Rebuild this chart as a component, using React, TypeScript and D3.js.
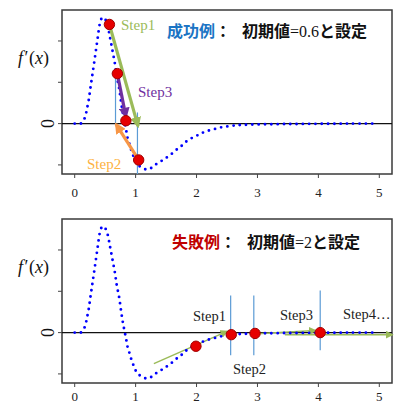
import React from 'react';
import * as d3 from 'd3';

// ---- data ----
const X_TICKS = [0, 1, 2, 3, 4, 5];
const Y_TICKS = [-1, 0, 1, 2];
const CURVE_X = [0, 0.1, 0.16, 0.19, 0.21, 0.23, 0.26, 0.29, 0.32, 0.35, 0.38, 0.41, 0.44, 0.47, 0.5, 0.54, 0.58, 0.62, 0.66, 0.69, 0.73, 0.76, 0.79, 0.83, 0.85, 0.87, 0.9, 0.93, 0.97, 1.01, 1.08, 1.18, 1.26, 1.34, 1.44, 1.52, 1.61, 1.69, 1.77, 1.86, 1.98, 2.06, 2.15, 2.25, 2.35, 2.44, 2.55, 2.66, 2.76, 3.0, 3.5, 4.0, 4.5, 4.98];
const CURVE_Y = [0, 0, 0.12, 0.27, 0.42, 0.57, 0.88, 1.18, 1.48, 1.79, 2.1, 2.4, 2.54, 2.57, 2.53, 2.38, 2.08, 1.77, 1.45, 1.15, 0.85, 0.54, 0.25, -0.05, -0.2, -0.36, -0.5, -0.65, -0.81, -0.94, -1.05, -1.11, -1.07, -0.98, -0.89, -0.81, -0.71, -0.61, -0.52, -0.4, -0.31, -0.25, -0.19, -0.15, -0.11, -0.08, -0.06, -0.04, -0.03, -0.02, -0.01, -0.005, 0, 0];

// success case (initial value 0.6)
const OK_POINT_X = [0.57, 0.7, 0.84, 1.05];
const OK_POINT_Y = [2.4, 1.21, 0.07, -0.88];
const OK_ARROW_FROM_X = [0.57, 1.05, 0.7];
const OK_ARROW_FROM_Y = [2.4, -0.88, 1.21];
const OK_ARROW_TO_X = [1.04, 0.68, 0.84];
const OK_ARROW_TO_Y = [-0.06, -0.02, 0.17];
const OK_ARROW_COLORS = ['#9bbb59', '#f79646', '#7030a0'];
const OK_VLINE_X = [1.03, 0.67];
const OK_VLINE_Y0 = [0.27, 1.21];
const OK_VLINE_Y1 = [-1.22, 0];

// failure case (initial value 2)
const NG_POINT_X = [1.99, 2.57, 2.96, 4.03];
const NG_POINT_Y = [-0.33, -0.05, -0.02, 0];
const NG_ARROW_FROM_X = [1.3, 3.0, 3.45];
const NG_ARROW_FROM_Y = [-0.75, -0.03, -0.05];
const NG_ARROW_TO_X = [2.5, 3.95, 5.21];
const NG_ARROW_TO_Y = [0.03, 0.05, -0.05];
const NG_VLINE_X = [2.56, 2.94, 4.03];
const NG_VLINE_Y0 = [0.9, 0.9, 1.02];
const NG_VLINE_Y1 = [-0.55, -0.55, -0.43];

const STEP_LABELS = ['Step1', 'Step2', 'Step3', 'Step4…'];

// ---- layout ----
const W = 394;
const H = 405;
const BOX_L = 62;
const BOX_R = 392;
const BOX_H = 164;
const PANEL_TOPS = [10, 219];
const LABEL_OFFSETS = [23, 18];
const SERIF = '"Liberation Serif", "Times New Roman", serif';
const CJK = '"Noto Sans CJK JP", "Noto Sans", sans-serif';

const xScale = d3.scaleLinear().domain([0, 5]).range([74.7, 379.3]);
const makeY = (top: number) => d3.scaleLinear().domain([-1.22, 2.75]).range([top + BOX_H, top]);

const curveData: [number, number][] = CURVE_X.map((x, i) => [x, CURVE_Y[i]]);

function Panel({ top, labelOffset, children }: { top: number; labelOffset: number; children?: React.ReactNode }) {
  const y = makeY(top);
  const line = d3
    .line<[number, number]>()
    .x((d) => xScale(d[0]))
    .y((d) => y(d[1]))
    .curve(d3.curveCatmullRom.alpha(0.5));
  const bottom = top + BOX_H;
  return (
    <g>
      <rect x={BOX_L} y={top} width={BOX_R - BOX_L} height={BOX_H} fill="white" stroke="#3a3a3a" strokeWidth={1.5} />
      {Y_TICKS.map((t) => (
        <line key={'yt' + t} x1={BOX_L - 4} x2={BOX_L} y1={y(t)} y2={y(t)} stroke="#444" strokeWidth={1} />
      ))}
      {X_TICKS.map((t) => (
        <g key={'xt' + t}>
          <line x1={xScale(t)} x2={xScale(t)} y1={bottom} y2={bottom + 4} stroke="#444" strokeWidth={1} />
          <text x={xScale(t)} y={bottom + labelOffset} textAnchor="middle" fontFamily={SERIF} fontSize={13} fill="#222">
            {t}
          </text>
        </g>
      ))}
      <line x1={BOX_L} x2={BOX_R} y1={y(0)} y2={y(0)} stroke="#111" strokeWidth={1.3} />
      <text
        transform={`translate(${BOX_L - 8},${y(0)}) rotate(-90)`}
        textAnchor="middle"
        fontFamily={SERIF}
        fontSize={18}
        fill="#111"
      >
        0
      </text>
      <text x={18} y={top + 54} fontFamily={SERIF} fontSize={18} fill="#111">
        <tspan fontStyle="italic">f</tspan>
        <tspan dx={1.5}>′</tspan>
        <tspan dx={0.5}>(</tspan>
        <tspan fontStyle="italic">x</tspan>
        <tspan>)</tspan>
      </text>
      {children}
      <path
        d={line(curveData) || ''}
        fill="none"
        stroke="#0000ff"
        strokeWidth={2.9}
        strokeLinecap="round"
        strokeDasharray="0 6.3"
      />
    </g>
  );
}

function Marker({ id, color, size }: { id: string; color: string; size: number }) {
  return (
    <marker
      id={id}
      viewBox="0 0 10 10"
      refX={8}
      refY={5}
      markerWidth={size}
      markerHeight={size}
      markerUnits="userSpaceOnUse"
      orient="auto"
    >
      <path d="M0,0 L10,5 L0,10 z" fill={color} />
    </marker>
  );
}

function Dot({ cx, cy }: { cx: number; cy: number }) {
  return <circle cx={cx} cy={cy} r={5.2} fill="#e60000" stroke="#a00000" strokeWidth={1} />;
}

export default function App() {
  const yTop = makeY(PANEL_TOPS[0]);
  const yBot = makeY(PANEL_TOPS[1]);
  return (
    <svg
      width={W}
      height={H}
      style={{ position: 'absolute', left: 0, top: 0, background: 'white' }}
      xmlns="http://www.w3.org/2000/svg"
    >
      <defs>
        {OK_ARROW_COLORS.map((c, i) => (
          <Marker key={c} id={'okArrow' + i} color={c} size={11} />
        ))}
        <Marker id="ngArrow" color="#9bbb59" size={8} />
      </defs>
      <rect x={0} y={0} width={W} height={H} fill="white" />

      {/* ---------- success panel ---------- */}
      <Panel top={PANEL_TOPS[0]} labelOffset={LABEL_OFFSETS[0]}>
        {OK_VLINE_X.map((x, i) => (
          <line
            key={'okv' + i}
            x1={xScale(x)}
            x2={xScale(x)}
            y1={yTop(OK_VLINE_Y0[i])}
            y2={yTop(OK_VLINE_Y1[i])}
            stroke="#5b9bd5"
            strokeWidth={1.2}
          />
        ))}
      </Panel>
      {OK_ARROW_FROM_X.map((x, i) => (
        <line
          key={'oka' + i}
          x1={xScale(x)}
          y1={yTop(OK_ARROW_FROM_Y[i])}
          x2={xScale(OK_ARROW_TO_X[i])}
          y2={yTop(OK_ARROW_TO_Y[i])}
          stroke={OK_ARROW_COLORS[i]}
          strokeWidth={3.2}
          markerEnd={`url(#okArrow${i})`}
        />
      ))}
      {OK_POINT_X.map((x, i) => (
        <Dot key={'okp' + i} cx={xScale(x)} cy={yTop(OK_POINT_Y[i])} />
      ))}
      <text x={121} y={30} fontFamily={SERIF} fontSize={15} fill="#9bbb59">
        {STEP_LABELS[0]}
      </text>
      <text x={87} y={169} fontFamily={SERIF} fontSize={15} fill="#fdb241">
        {STEP_LABELS[1]}
      </text>
      <text x={138} y={97} fontFamily={SERIF} fontSize={15} fill="#7030a0">
        {STEP_LABELS[2]}
      </text>
      <text y={37} fontFamily={CJK} fontWeight="bold" fontSize={16} fill="#111">
        <tspan x={167} fill="#1b74c4">成功例</tspan>
        <tspan>：</tspan>
        <tspan x={242}>初期値</tspan>
        <tspan fontFamily={SERIF} fontWeight="normal">=0.6</tspan>
        <tspan>と設定</tspan>
      </text>

      {/* ---------- failure panel ---------- */}
      <Panel top={PANEL_TOPS[1]} labelOffset={LABEL_OFFSETS[1]}>
        {NG_VLINE_X.map((x, i) => (
          <line
            key={'ngv' + i}
            x1={xScale(x)}
            x2={xScale(x)}
            y1={yBot(NG_VLINE_Y0[i])}
            y2={yBot(NG_VLINE_Y1[i])}
            stroke="#5b9bd5"
            strokeWidth={1.2}
          />
        ))}
        {NG_ARROW_FROM_X.map((x, i) => (
          <line
            key={'nga' + i}
            x1={xScale(x)}
            y1={yBot(NG_ARROW_FROM_Y[i])}
            x2={xScale(NG_ARROW_TO_X[i])}
            y2={yBot(NG_ARROW_TO_Y[i])}
            stroke="#9bbb59"
            strokeWidth={1.5}
            markerEnd="url(#ngArrow)"
          />
        ))}
      </Panel>
      {NG_POINT_X.map((x, i) => (
        <Dot key={'ngp' + i} cx={xScale(x)} cy={yBot(NG_POINT_Y[i])} />
      ))}
      <text x={193} y={321} fontFamily={SERIF} fontSize={14.5} fill="#222">
        {STEP_LABELS[0]}
      </text>
      <text x={233} y={374} fontFamily={SERIF} fontSize={14.5} fill="#222">
        {STEP_LABELS[1]}
      </text>
      <text x={280} y={320} fontFamily={SERIF} fontSize={14.5} fill="#222">
        {STEP_LABELS[2]}
      </text>
      <text x={343} y={319} fontFamily={SERIF} fontSize={14.5} fill="#222">
        {STEP_LABELS[3]}
      </text>
      <text y={248} fontFamily={CJK} fontWeight="bold" fontSize={16} fill="#111">
        <tspan x={172} fill="#c00000">失敗例</tspan>
        <tspan>：</tspan>
        <tspan x={247}>初期値</tspan>
        <tspan fontFamily={SERIF} fontWeight="normal">=2</tspan>
        <tspan>と設定</tspan>
      </text>
    </svg>
  );
}
